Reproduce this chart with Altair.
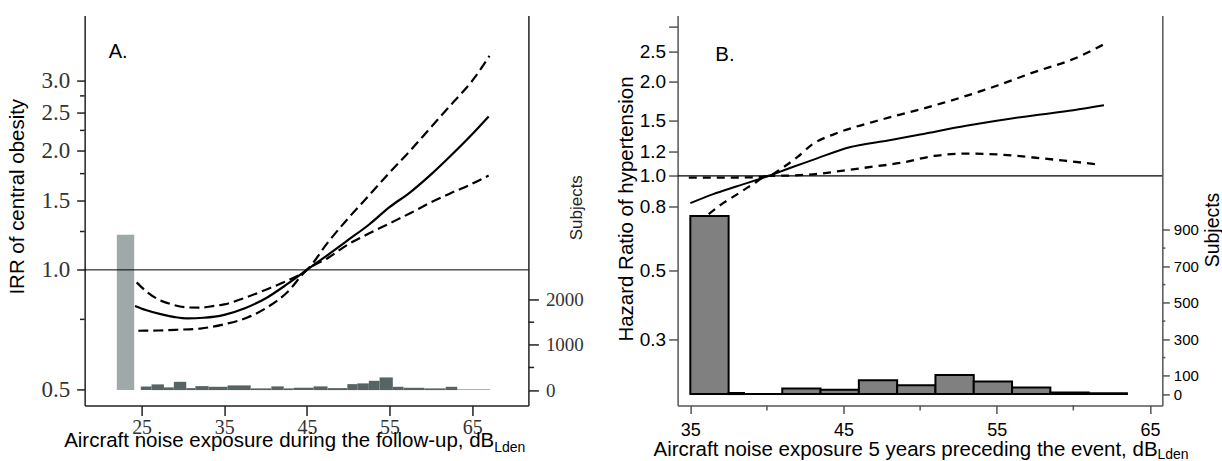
import altair as alt
import pandas as pd

# ---------------- Panel A data (IRR of central obesity) ----------------
a_est_x = [24.2, 25.5, 27.3, 29.0, 30.5, 32.5, 35.0, 37.5, 40.2, 42.6, 45.0, 47.5, 50.0, 52.5, 55.0, 57.5, 60.0, 62.5, 65.0, 67.0]
a_est_y = [0.811, 0.792, 0.773, 0.760, 0.754, 0.757, 0.770, 0.800, 0.852, 0.920, 1.000, 1.090, 1.190, 1.300, 1.440, 1.570, 1.740, 1.950, 2.200, 2.440]
a_hi_x = [24.4, 25.5, 27.0, 28.5, 30.5, 32.0, 33.8, 35.0, 37.0, 40.2, 43.0, 45.0, 47.5, 50.0, 52.5, 55.0, 57.5, 60.0, 62.5, 65.0, 67.1]
a_hi_y = [0.930, 0.885, 0.843, 0.820, 0.804, 0.803, 0.811, 0.818, 0.843, 0.894, 0.947, 1.000, 1.170, 1.350, 1.540, 1.760, 2.000, 2.290, 2.620, 3.000, 3.470]
a_lo_x = [24.6, 27.0, 29.3, 32.1, 35.0, 37.8, 40.2, 42.6, 45.0, 47.5, 50.0, 52.5, 55.0, 57.5, 60.0, 62.5, 65.0, 67.0]
a_lo_y = [0.702, 0.703, 0.706, 0.711, 0.729, 0.758, 0.804, 0.877, 1.000, 1.070, 1.160, 1.235, 1.310, 1.390, 1.480, 1.565, 1.650, 1.730]

a_ref_start = [22.0]
a_ref_end = [24.1]
a_ref_count = [3430]
a_bin_edges = [24.9, 26.2, 27.7, 28.9, 30.4, 31.5, 33.1, 35.4, 38.2, 40.7, 42.2, 43.4, 45.8, 47.5,
               49.9, 51.1, 52.5, 53.8, 55.4, 56.7, 59.2, 61.8, 63.2, 67.2]
a_bin_counts = [82, 126, 60, 183, 44, 88, 73, 104, 38, 82, 38, 51, 82, 44, 132, 148, 205, 280, 73, 51, 38, 73, 15]

a_left_ticks = [0.5, 1.0, 1.5, 2.0, 2.5, 3.0]
a_left_minor = [0.75, 1.25, 1.75, 2.25, 2.75]
a_right_ticks = [0, 1000, 2000]
a_right_minor = [500, 1500]
a_x_ticks = [25, 35, 45, 55, 65]

# ---------------- Panel B data (HR of hypertension) ----------------
b_est_x = [35.0, 36.5, 38.0, 40.1, 41.5, 43.0, 45.4, 48.0, 50.0, 53.0, 55.0, 57.4, 60.0, 62.0]
b_est_y = [0.819, 0.875, 0.925, 1.000, 1.060, 1.125, 1.235, 1.300, 1.355, 1.445, 1.500, 1.560, 1.620, 1.680]
b_hi_x = [34.9, 36.0, 37.5, 39.0, 40.1, 41.0, 42.0, 43.0, 44.4, 45.7, 47.2, 48.7, 50.0, 51.5, 53.0, 55.0, 57.4, 60.0, 62.0]
b_hi_y = [0.988, 0.988, 0.988, 0.990, 1.000, 1.060, 1.150, 1.265, 1.360, 1.430, 1.500, 1.570, 1.630, 1.710, 1.800, 1.940, 2.140, 2.360, 2.630]
b_lo_x = [36.2, 37.0, 38.0, 39.0, 40.1, 41.5, 43.0, 45.0, 46.5, 48.7, 50.9, 53.0, 55.2, 57.4, 59.6, 61.5]
b_lo_y = [0.755, 0.810, 0.870, 0.935, 1.000, 1.003, 1.012, 1.040, 1.064, 1.100, 1.158, 1.178, 1.170, 1.145, 1.116, 1.090]

b_bin_edges = [35.0, 37.5, 38.5, 41.0, 43.5, 46.0, 48.5, 51.0, 53.5, 56.0, 58.5, 61.0, 63.5]
b_bin_counts = [976, 6, 1, 31, 24, 76, 49, 105, 69, 36, 9, 4]

b_left_ticks = [0.3, 0.5, 0.8, 1.0, 1.2, 1.5, 2.0, 2.5, 3.0]
b_right_ticks = [0, 100, 300, 500, 700, 900]
b_right_minor = [200, 400, 600, 800]
b_x_ticks = [35, 45, 55, 65]
b_x_minor = [40, 50, 60]

# ---------------- geometry ----------------
AW, AH = 444, 390
BW, BH = 485, 390
SANS = "Liberation Sans"
SERIF = "Liberation Serif"


def curve_df(xs, ys, name):
    return pd.DataFrame({"x": xs, "y": ys, "s": [name] * len(xs)})


def hist_df(edges, counts):
    return pd.DataFrame({"x0": edges[:-1], "x1": edges[1:], "n": counts, "b": [0] * len(counts)})


# ================= Panel A =================
ax_scale = alt.Scale(domain=[18.105, 71.81], nice=False, zero=False)
ay_scale = alt.Scale(type="log", domain=[0.4548, 4.385], nice=False)
as_scale = alt.Scale(domain=[-338, 8271], nice=False, zero=False)

ax_axis = alt.Axis(
    values=a_x_ticks, format="d", tickSize=10, tickWidth=1.5, tickColor="#222",
    domainColor="#222", domainWidth=1.5, labelFont=SERIF, labelFontSize=20,
    labelColor="#333", labelPadding=2, labelOverlap=False, grid=False,
    title="Aircraft noise exposure during the follow-up, dB", titleFont=SANS,
    titleFontSize=20.5, titleFontWeight="normal", titleColor="#000",
    titleAlign="right", titleBaseline="alphabetic", titleX=409.3, titleY=41.5,
)
ay_axis = alt.Axis(
    orient="left", values=a_left_ticks, format=".1f", tickSize=8, tickWidth=1.5,
    tickColor="#222", domainColor="#222", domainWidth=1.5, labelFont=SERIF,
    labelFontSize=23, labelColor="#333", labelPadding=7, labelOverlap=False, grid=False,
    title="IRR of central obesity", titleFont=SANS, titleFontSize=20.5,
    titleFontWeight="normal", titleColor="#000", titleAngle=270, titleAlign="center",
    titleBaseline="top", titleX=-77.3, titleY=180.7,
)
as_axis = alt.Axis(
    orient="right", values=a_right_ticks, format="d", tickSize=10, tickWidth=1.5,
    tickColor="#222", domainColor="#222", domainWidth=1.5, labelFont=SERIF,
    labelFontSize=19, labelColor="#333", labelPadding=7, labelOverlap=False, grid=False,
    title="Subjects", titleFont=SANS, titleFontSize=17, titleFontWeight="normal",
    titleColor="#222", titleAngle=270, titleAlign="center", titleBaseline="top",
    titleX=40.5, titleY=191.7,
)


def AX(field):
    return alt.X(field, scale=ax_scale, axis=ax_axis)


def AYL(field):
    return alt.Y(field, scale=ay_scale, axis=ay_axis)


def AYR(field):
    return alt.Y(field, scale=as_scale, axis=as_axis)


a_ref = pd.DataFrame({"x0": a_ref_start, "x1": a_ref_end, "n": a_ref_count, "b": [0]})
a_hist = hist_df(a_bin_edges, a_bin_counts)

a_light = alt.Chart(a_ref).mark_bar(color="#9fa9a9").encode(
    x=AX("x0:Q"), x2="x1:Q", y=AYR("n:Q"), y2="b:Q",
)
a_dark = alt.Chart(a_hist).mark_bar(color="#586363").encode(
    x=AX("x0:Q"), x2="x1:Q", y=AYR("n:Q"), y2="b:Q",
)
a_rminor = alt.Chart(pd.DataFrame({"n": a_right_minor})).mark_rule(color="#222", strokeWidth=1.5).encode(
    y=AYR("n:Q"), x=alt.value(AW), x2=alt.value(AW + 5.7),
)
a_right = alt.layer(a_light, a_dark, a_rminor)

a_curves = pd.concat([
    curve_df(a_est_x, a_est_y, "est"),
    curve_df(a_hi_x, a_hi_y, "hi"),
    curve_df(a_lo_x, a_lo_y, "lo"),
])
a_refline = alt.Chart(pd.DataFrame({"y": [1.0]})).mark_rule(color="#000", strokeWidth=1).encode(
    y=AYL("y:Q"),
)
a_solid = alt.Chart(a_curves).transform_filter(alt.datum.s == "est").mark_line(
    color="#000", strokeWidth=2.2, interpolate="monotone"
).encode(x=AX("x:Q"), y=AYL("y:Q"), order="x:Q")
a_dash = alt.Chart(a_curves).transform_filter(alt.datum.s != "est").mark_line(
    color="#000", strokeWidth=2.2, strokeDash=[10, 5], interpolate="monotone"
).encode(x=AX("x:Q"), y=AYL("y:Q"), detail="s:N", order="x:Q")
a_lminor = alt.Chart(pd.DataFrame({"y": a_left_minor})).mark_rule(color="#222", strokeWidth=1.5).encode(
    y=AYL("y:Q"), x=alt.value(-4.7), x2=alt.value(0),
)
a_label = alt.Chart(pd.DataFrame({"t": ["A."]})).mark_text(
    font=SANS, fontSize=20, align="left", baseline="alphabetic", color="#000"
).encode(text="t:N", x=alt.value(24), y=alt.value(42.7))
a_sub = alt.Chart(pd.DataFrame({"t": ["Lden"]})).mark_text(
    font=SANS, fontSize=14, align="left", baseline="alphabetic", color="#000"
).encode(text="t:N", x=alt.value(409.8), y=alt.value(AH + 46.2))
a_left = alt.layer(a_refline, a_dash, a_solid, a_lminor, a_label, a_sub)

panel_a = alt.layer(a_right, a_left).resolve_scale(y="independent").properties(width=AW, height=AH)

# ================= Panel B =================
bx_scale = alt.Scale(domain=[34.17, 65.81], nice=False, zero=False)
by_scale = alt.Scale(type="log", domain=[0.1853, 3.247], nice=False)
bs_scale = alt.Scale(domain=[-62, 2074], nice=False, zero=False)

bx_axis = alt.Axis(
    values=b_x_ticks, format="d", tickSize=8, tickWidth=1.5, tickColor="#555",
    domainColor="#555", domainWidth=1.5, labelFont=SANS, labelFontSize=18,
    labelColor="#000", labelPadding=8, labelOverlap=False, grid=False,
    title="Aircraft noise exposure 5 years preceding the event, dB", titleFont=SANS,
    titleFontSize=20.5, titleFontWeight="normal", titleColor="#000",
    titleAlign="right", titleBaseline="alphabetic", titleX=479.7, titleY=50.4,
)
by_axis = alt.Axis(
    orient="left", values=b_left_ticks, tickSize=9, tickWidth=1.5, tickColor="#555",
    labelExpr="datum.value == 3 ? '' : format(datum.value, '.1f')",
    domainColor="#555", domainWidth=1.5, labelFont=SANS, labelFontSize=19,
    labelColor="#000", labelPadding=3, labelOverlap=False, grid=False,
    title="Hazard Ratio of hypertension", titleFont=SANS, titleFontSize=20.5,
    titleFontWeight="normal", titleColor="#000", titleAngle=270, titleAlign="center",
    titleBaseline="top", titleX=-61.6, titleY=193,
)
bs_axis = alt.Axis(
    orient="right", values=b_right_ticks, format="d", tickSize=7, tickWidth=1.5,
    tickColor="#555", domainColor="#555", domainWidth=1.5, labelFont=SANS,
    labelFontSize=15, labelColor="#000", labelPadding=4, labelOverlap=False, grid=False,
    title="Subjects", titleFont=SANS, titleFontSize=19.5, titleFontWeight="normal",
    titleColor="#000", titleAngle=270, titleAlign="center", titleBaseline="top",
    titleX=41, titleY=214,
)


def BX(field):
    return alt.X(field, scale=bx_scale, axis=bx_axis)


def BYL(field):
    return alt.Y(field, scale=by_scale, axis=by_axis)


def BYR(field):
    return alt.Y(field, scale=bs_scale, axis=bs_axis)


b_hist = hist_df(b_bin_edges, b_bin_counts)
b_bars = alt.Chart(b_hist).mark_bar(color="#808080", stroke="#000", strokeWidth=2).encode(
    x=BX("x0:Q"), x2="x1:Q", y=BYR("n:Q"), y2="b:Q",
)
b_rminor = alt.Chart(pd.DataFrame({"n": b_right_minor})).mark_rule(color="#555", strokeWidth=1.5).encode(
    y=BYR("n:Q"), x=alt.value(BW), x2=alt.value(BW + 3),
)
b_right = alt.layer(b_bars, b_rminor)

b_curves = pd.concat([
    curve_df(b_est_x, b_est_y, "est"),
    curve_df(b_hi_x, b_hi_y, "hi"),
    curve_df(b_lo_x, b_lo_y, "lo"),
])
b_refline = alt.Chart(pd.DataFrame({"y": [1.0]})).mark_rule(color="#000", strokeWidth=1.3).encode(
    y=BYL("y:Q"),
)
b_solid = alt.Chart(b_curves).transform_filter(alt.datum.s == "est").mark_line(
    color="#000", strokeWidth=2, interpolate="monotone"
).encode(x=BX("x:Q"), y=BYL("y:Q"), order="x:Q")
b_dash = alt.Chart(b_curves).transform_filter(alt.datum.s != "est").mark_line(
    color="#000", strokeWidth=2.3, strokeDash=[8, 6], interpolate="monotone"
).encode(x=BX("x:Q"), y=BYL("y:Q"), detail="s:N", order="x:Q")
b_xminor = alt.Chart(pd.DataFrame({"x": b_x_minor})).mark_rule(color="#555", strokeWidth=1.5).encode(
    x=BX("x:Q"), y=alt.value(BH), y2=alt.value(BH + 5),
)
b_label = alt.Chart(pd.DataFrame({"t": ["B."]})).mark_text(
    font=SANS, fontSize=20.5, align="left", baseline="alphabetic", color="#000"
).encode(text="t:N", x=alt.value(37.7), y=alt.value(45.2))
b_sub = alt.Chart(pd.DataFrame({"t": ["Lden"]})).mark_text(
    font=SANS, fontSize=14, align="left", baseline="alphabetic", color="#000"
).encode(text="t:N", x=alt.value(480.2), y=alt.value(BH + 53.7))
b_left = alt.layer(b_refline, b_dash, b_solid, b_xminor, b_label, b_sub)

panel_b = alt.layer(b_right, b_left).resolve_scale(y="independent").properties(width=BW, height=BH)

chart = alt.hconcat(panel_a, panel_b, spacing=149.3).properties(
    bounds="flush",
    padding={"left": 6.7, "top": 15.5, "right": 0, "bottom": 0},
    background="#ffffff",
).configure_view(stroke=None)

chart.save("out.html", embed_options={"renderer": "svg", "actions": False})
